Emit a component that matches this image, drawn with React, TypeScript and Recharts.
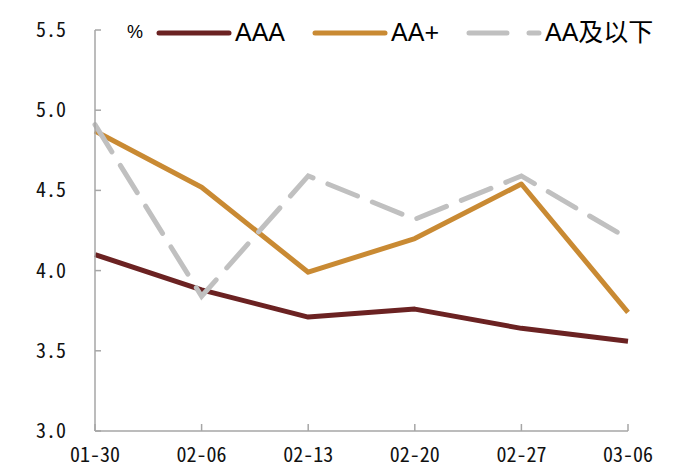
import React from 'react';
import { LineChart, Line, XAxis, YAxis, Legend } from 'recharts';

const dates = ['01-30', '02-06', '02-13', '02-20', '02-27', '03-06'];
const aaa = [4.1, 3.88, 3.71, 3.76, 3.64, 3.56];
const aaPlus = [4.87, 4.52, 3.99, 4.2, 4.54, 3.74];
const aaBelow = [4.91, 3.84, 4.59, 4.32, 4.59, 4.2];
const seriesNames = ['AAA', 'AA+', 'AA及以下'];
const yTicks = [3.0, 3.5, 4.0, 4.5, 5.0, 5.5];
const unitLabel = '%';

const AXIS = '#a6a6a6';
const TICK_FONT = '"Noto Sans Mono CJK SC", "Noto Sans Mono CJK JP", "DejaVu Sans Mono", monospace';
const LEGEND_FONT = '"Liberation Sans", "Noto Sans CJK SC", sans-serif';

const data = dates.map((d, i) => ({
    date: d,
    [seriesNames[0]]: aaa[i],
    [seriesNames[1]]: aaPlus[i],
    [seriesNames[2]]: aaBelow[i],
}));

const YTick = (props: any) => {
    const { x, y, payload } = props;
    return (
        <g>
            <line x1={x} x2={x + 6} y1={y} y2={y} stroke={AXIS} strokeWidth={1.5} />
            <text x={x - 29} y={y} dy={7} textAnchor="end" fontFamily={TICK_FONT} fontSize={20} fill="#111">
                {Number(payload.value).toFixed(1)}
            </text>
        </g>
    );
};

const XTick = (props: any) => {
    const { x, y, payload } = props;
    return (
        <g>
            <line x1={x} x2={x} y1={y} y2={y - 7} stroke={AXIS} strokeWidth={1.5} />
            <text x={x} y={y + 31} textAnchor="middle" fontFamily={TICK_FONT} fontSize={20} fill="#111">
                {payload.value}
            </text>
        </g>
    );
};

const LegendBox = (props: any) => {
    const items = [...(props.payload || [])].sort(
        (a: any, b: any) => seriesNames.indexOf(a.value) - seriesNames.indexOf(b.value)
    );
    return (
        <div style={{ display: 'flex', alignItems: 'center', fontFamily: LEGEND_FONT, color: '#000' }}>
            <span style={{ fontSize: 18, marginRight: 12 }}>{unitLabel}</span>
            {items.map((p: any, i: number) => (
                <div key={`leg-${i}`} style={{ display: 'flex', alignItems: 'center', marginRight: 26 }}>
                    <svg width={78} height={10}>
                        <line
                            x1={4}
                            x2={74}
                            y1={5}
                            y2={5}
                            stroke={p.color}
                            strokeWidth={5}
                            strokeLinecap="round"
                            strokeDasharray={p.payload && p.payload.strokeDasharray ? '38 22' : undefined}
                        />
                    </svg>
                    <span style={{ fontSize: 25, marginLeft: 2, lineHeight: 1 }}>{p.value}</span>
                </div>
            ))}
        </div>
    );
};

export default function App() {
    return (
        <div style={{ position: 'fixed', left: 0, top: 0, background: '#fff' }}>
            <LineChart width={700} height={475} data={data} margin={{ top: 30, right: 72, bottom: 0, left: 0 }}>
                <XAxis
                    dataKey="date"
                    height={44}
                    stroke={AXIS}
                    strokeWidth={1.5}
                    tickLine={false}
                    tickSize={0}
                    tickMargin={0}
                    tick={<XTick />}
                    interval={0}
                />
                <YAxis
                    width={95}
                    domain={[3, 5.5]}
                    ticks={yTicks}
                    stroke={AXIS}
                    strokeWidth={1.5}
                    tickLine={false}
                    tickSize={0}
                    tickMargin={0}
                    tick={<YTick />}
                    interval={0}
                />
                <Legend
                    layout="horizontal"
                    verticalAlign="middle"
                    align="center"
                    content={<LegendBox />}
                    wrapperStyle={{ top: 20, left: 127, width: 560 }}
                />
                <Line dataKey={seriesNames[0]} stroke="#6b2222" strokeWidth={5} dot={false} isAnimationActive={false} strokeLinejoin="round" />
                <Line dataKey={seriesNames[1]} stroke="#c98a33" strokeWidth={5} dot={false} isAnimationActive={false} strokeLinejoin="round" />
                <Line
                    dataKey={seriesNames[2]}
                    stroke="#c0c0c0"
                    strokeWidth={5}
                    strokeDasharray="32 16"
                    strokeLinecap="round"
                    dot={false}
                    isAnimationActive={false}
                />
            </LineChart>
        </div>
    );
}
